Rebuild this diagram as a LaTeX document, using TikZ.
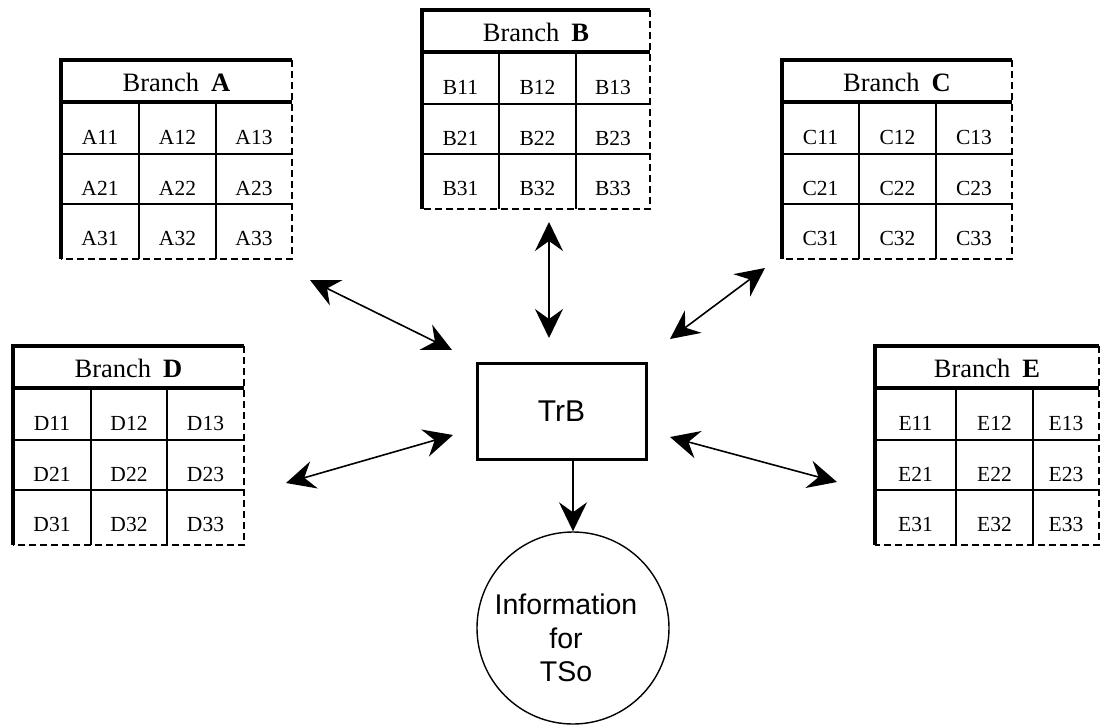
\documentclass[tikz,border=0pt]{standalone}
\usepackage{fontspec}
\setmainfont{Liberation Serif}
\newfontfamily\sansfam{Liberation Sans}
\usetikzlibrary{arrows.meta,shapes.geometric}

\tikzset{
  thickrule/.style={line width=3.6pt, line join=miter},
  thinrule/.style={line width=1.4pt},
  dashrule/.style={line width=1.6pt, dash pattern=on 7pt off 4pt},
  celltext/.style={font=\fontsize{21.5}{24}\selectfont, inner sep=0pt},
  headtext/.style={font=\fontsize{26.5}{30}\selectfont, inner sep=0pt},
  link/.style={line width=1.6pt, {Stealth[length=29pt,width=28pt,inset=10pt]}-{Stealth[length=29pt,width=28pt,inset=10pt]}},
  feed/.style={line width=1.6pt, -{Stealth[length=29pt,width=28pt,inset=10pt]}},
  hub/.style={draw, line width=3pt, rectangle, minimum width=169pt, minimum height=96pt,
    font=\sansfam\fontsize{30}{34}\selectfont},
  sink/.style={draw, line width=1.4pt, circle, minimum size=192pt, inner sep=0pt},
  sinktext/.style={align=center, inner sep=0pt, font=\sansfam\fontsize{28.5}{33.5}\selectfont},
}

% branch table: letter, left, top, first divider, second divider, right edge (offsets from left)
\newcommand\branchtab[6]{%
  \begin{scope}[shift={(#2,#3)}]
    \draw[thinrule] (0,94) -- (#6,94) (0,144) -- (#6,144)
                    (#4,42) -- (#4,199) (#5,42) -- (#5,199);
    \draw[dashrule] (#6,0) -- (#6,199) -- (0,199);
    \draw[thickrule] (#6,0) -- (0,0) -- (0,199) (0,42) -- (#6,42);
    \node[headtext] (#1head) at ({#6/2},22) {Branch\hspace{0.45em}\textbf{#1}};
    \pgfmathsetmacro\xa{#4/2}
    \pgfmathsetmacro\xb{(#4+#5)/2}
    \pgfmathsetmacro\xc{(#5+#6)/2}
    \foreach \r/\y in {1/77,2/128,3/178}{
      \node[celltext] (#1\r1) at (\xa,\y) {#1\r1};
      \node[celltext] (#1\r2) at (\xb,\y) {#1\r2};
      \node[celltext] (#1\r3) at (\xc,\y) {#1\r3};
    }
  \end{scope}%
}

\begin{document}
\begin{tikzpicture}[x=1pt,y=-1pt]
  \useasboundingbox (0,0) rectangle (1101,726);

  % the five branch tables
  \branchtab{A}{61}{60}{78}{155}{231}
  \branchtab{B}{422}{10}{77}{154}{228}
  \branchtab{C}{782}{60}{77}{154}{230}
  \branchtab{D}{13}{346}{78}{154}{231}
  \branchtab{E}{875}{346}{81}{158}{224}

  % central unit and its output
  \node[hub] (trb) at (561.5,411) {TrB};
  \node[sink] (info) at (573,628) {};
  \node[sinktext] (infotext) at (566,638) {Information\\for\\TSo};

  % ends of the exchange arrows
  \coordinate (a1) at (310,280);  \coordinate (a2) at (452,350);
  \coordinate (b1) at (549,222);  \coordinate (b2) at (549,338);
  \coordinate (c1) at (765,268);  \coordinate (c2) at (670,339);
  \coordinate (d1) at (286,483);  \coordinate (d2) at (453,435);
  \coordinate (e1) at (670,437);  \coordinate (e2) at (837,482);

  \draw[link] (a1) -- (a2);
  \draw[link] (b1) -- (b2);
  \draw[link] (c1) -- (c2);
  \draw[link] (d1) -- (d2);
  \draw[link] (e1) -- (e2);
  \draw[feed] (trb.south -| info.north) -- (info.north);
\end{tikzpicture}
\end{document}
